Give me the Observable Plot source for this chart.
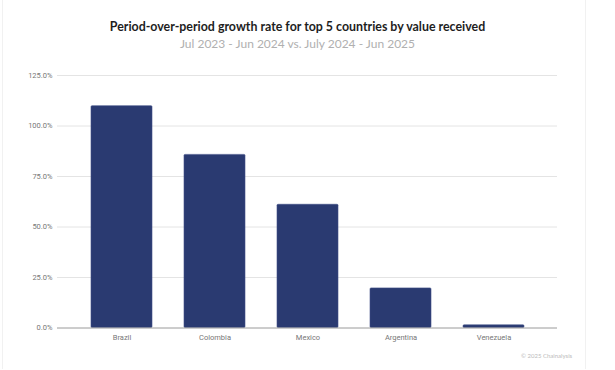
<!DOCTYPE html>
<html>
<head>
<meta charset="utf-8">
<script src="https://cdn.jsdelivr.net/npm/d3@7"></script>
<script src="https://cdn.jsdelivr.net/npm/@observablehq/plot@0.6"></script>
<style>
  html, body { margin: 0; padding: 0; background: #fff; }
  #wrap { position: relative; width: 615px; height: 370px; overflow: hidden; font-family: Lato, "Noto Sans", sans-serif; }
  #card { position: absolute; left: 2px; top: 0; width: 582px; height: 369px; border-left: 1px solid #f1f1f1; border-right: 1px solid #f1f1f1; }
  #title { position: absolute; left: 0; width: 595px; top: 19px; text-align: center; font-size: 12.4px; font-weight: bold; color: #1e1e1e; }
  #subtitle { position: absolute; left: 0; width: 595px; top: 36px; text-align: center; font-size: 12px; color: #b0b0b0; }
  #chart { position: absolute; left: 0; top: 55px; }
  #credit { position: absolute; left: 521px; top: 352px; font-size: 6px; color: #bbb; }
</style>
</head>
<body>
<div id="wrap">
  <div id="card"></div>
  <div id="title">Period-over-period growth rate for top 5 countries by value received</div>
  <div id="subtitle">Jul 2023 - Jun 2024 vs. July 2024 - Jun 2025</div>
  <div id="chart"></div>
  <div id="credit">© 2025 Chainalysis</div>
</div>
<script>
const countries = ["Brazil", "Colombia", "Mexico", "Argentina", "Venezuela"];
const growth = [109.8, 85.7, 61.0, 19.6, 1.3];
const yTicks = [0, 25, 50, 75, 100, 125];

const data = countries.map((c, i) => ({country: c, value: growth[i]}));

const chart = Plot.plot({
  width: 615,
  height: 315,
  marginTop: 20,
  marginBottom: 42.5,
  marginLeft: 57,
  marginRight: 58,
  style: {fontFamily: "Roboto, sans-serif", fontSize: "7.5px", color: "#777", background: "transparent"},
  x: {domain: countries, padding: 0.345, label: null, tickSize: 0, tickPadding: 7},
  y: {domain: [0, 125], ticks: yTicks, label: null, tickSize: 0, tickPadding: 5, tickFormat: d => d.toFixed(1) + "%"},
  marks: [
    Plot.ruleY(yTicks.filter(d => d > 0), {stroke: "#e4e4e4", strokeWidth: 1}),
    Plot.barY(data, {x: "country", y: "value", fill: "#2a3a71", stroke: "#3f4f86", strokeWidth: 0.6, rx: 1}),
    Plot.ruleY([0], {stroke: "#9a9a9a", strokeWidth: 1})
  ]
});
document.getElementById("chart").appendChild(chart);
</script>
</body>
</html>
